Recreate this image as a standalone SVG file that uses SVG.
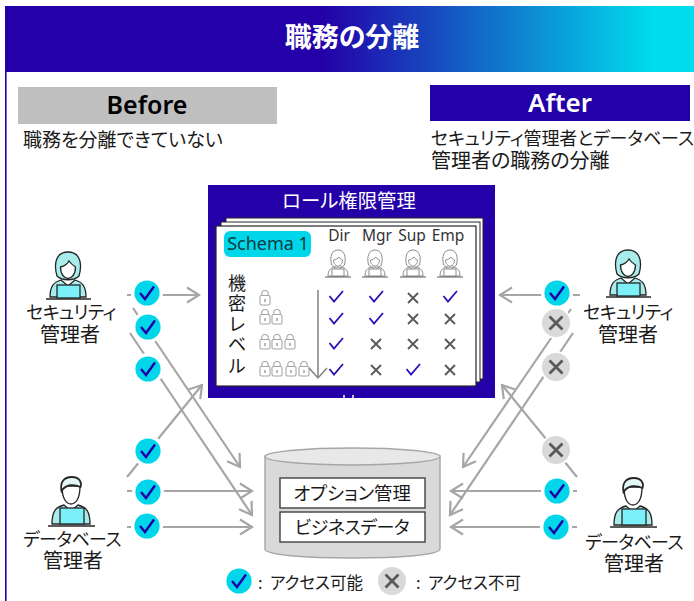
<svg xmlns="http://www.w3.org/2000/svg" width="694" height="601" viewBox="0 0 694 601">
<style>
text{font-family:"Noto Sans CJK JP","Noto Sans",sans-serif;fill:#1a1a1a;font-feature-settings:"palt"}
.lat{font-family:"Noto Sans","Liberation Sans",sans-serif}
.m{text-anchor:middle}
.kn{font-size:18px;text-anchor:middle;letter-spacing:-0.600px}
.kj{font-size:20px;text-anchor:middle}
.conn{fill:none;stroke:#a6a6a6;stroke-width:2.2}
.halo{fill:#fff}
.t{fill:none;stroke:#2a10b8;stroke-width:1.8}
.x{fill:none;stroke:#595959;stroke-width:1.9}
.lock{fill:#fff;stroke:#a6a6a6;stroke-width:1.1}
</style>
<defs>
<linearGradient id="hg" x1="0" x2="1" y1="0" y2="0">
<stop offset="0" stop-color="#2300a8"/><stop offset="0.46" stop-color="#2300a8"/><stop offset="0.94" stop-color="#00dcec"/><stop offset="1" stop-color="#00dcec"/>
</linearGradient>
<marker id="ah" markerUnits="userSpaceOnUse" markerWidth="16" markerHeight="20" refX="13" refY="10" orient="auto" viewBox="0 0 16 20">
<path d="M1 2.500 L13 10 L1 17.500" fill="none" stroke="#a6a6a6" stroke-width="2.2"/>
</marker>
<marker id="ahs" markerUnits="userSpaceOnUse" markerWidth="14" markerHeight="20" refX="11" refY="10" orient="auto" viewBox="0 0 14 20">
<path d="M1 1 L11 10 L1 19" fill="none" stroke="#808080" stroke-width="1.500"/>
</marker>
<g id="ok"><circle r="16" class="halo"/><circle r="12.600" fill="#00d6ea"/><path d="M-7 0 L-2 6 L7 -6.500" fill="none" stroke="#2300a8" stroke-width="2.400"/></g>
<g id="ng"><circle r="16" class="halo"/><circle r="14" fill="#d9d9d9"/><path d="M-6.500 -6.500 L6.500 6.500 M6.500 -6.500 L-6.500 6.500" fill="none" stroke="#595959" stroke-width="2.800"/></g>
<g id="woman" stroke="#262626" stroke-width="1.300">
<path d="M-18 33 C-18 22 -14 18 -7 16 L0 22 L7 16 C14 18 18 22 18 33 Z" fill="#a8ecec"/>
<path d="M-11 12 C-15 -2 -11 -12 0 -12 C11 -12 15 -2 11 12 C6 17 -6 17 -11 12 Z" fill="#a8ecec"/>
<path d="M-7.500 3 C-3 2 0 -1 1 -3 C3 0 6 2 7.500 3 C7.500 11 3 14.500 0 14.500 C-3 14.500 -7.500 11 -7.500 3 Z" fill="#fff"/>
<rect x="-11" y="21" width="23" height="13" fill="#7cf0f8"/>
<path d="M-22 35 H23" stroke-width="1.500" fill="none"/>
</g>
<g id="man" stroke="#262626" stroke-width="1.300">
<path d="M-19 36 C-19 23 -15 19 -7 17 L0 23 L7 17 C15 19 19 23 19 36 Z" fill="#a8ecec"/>
<path d="M-9 -2 C-9 12 -4 16 0 16 C4 16 9 12 9 -2 Z" fill="#fff"/>
<path d="M-9.500 3 C-11 -5 -8 -11 1 -11 C9 -11 11 -5 9.500 -1 C3 -4 -5 -4 -9.500 3 Z" fill="#e6f7f7" stroke-width="1.800"/>
<rect x="-11" y="20" width="24" height="16" fill="#7cf0f8"/>
<path d="M-23 38 H24" stroke-width="1.500" fill="none"/>
</g>
<g id="sm" stroke="#8c8c8c" stroke-width="1" fill="#fff">
<path d="M-10 13 C-10 7 -7 5 -4 4 L0 7 L4 4 C7 5 10 7 10 13 Z"/>
<path d="M-6.500 2 C-8.500 -7 -6 -13 0 -13 C6 -13 8.500 -7 6.500 2 C3 5 -3 5 -6.500 2 Z"/>
<path d="M-4.500 -3 C-2 -3 0 -5 1 -6 C2 -4 4 -3 4.500 -3 C4.500 1 2 3 0 3 C-2 3 -4.500 1 -4.500 -3 Z"/>
<rect x="-6" y="6" width="12" height="7"/>
<path d="M-13 14 H13" stroke="#595959"/>
</g>
<g id="lk"><path d="M-3.200 -2 V-4.500 C-3.200 -8.500 3.200 -8.500 3.200 -4.500 V-2" class="lock"/><rect x="-5" y="-2.500" width="10" height="9.500" rx="1.500" class="lock"/><path d="M0 1 V4" stroke="#a6a6a6" stroke-width="1.600"/></g>
<path id="c" class="t" d="M-6.500 -1 L-2 4.500 L7 -6"/>
<path id="n" class="x" d="M-5 -5 L5 5 M5 -5 L-5 5"/>
</defs>

<rect width="694" height="601" fill="#fff"/>
<rect id="left-rule" x="5" y="6" width="1.600" height="595" fill="#2300a8"/>
<g id="header"><rect x="5" y="6" width="689" height="66" fill="url(#hg)"/>
<text x="352" y="47" class="m" font-size="27" font-weight="700" style="fill:#fff">職務の分離</text></g>

<g id="before"><rect x="18" y="87" width="259" height="37" fill="#bfbfbf"/>
<text x="147" y="114" class="lat m" font-size="25" font-weight="600" style="fill:#000">Before</text>
<text x="23" y="147" font-size="19">職務を分離できていない</text></g>

<g id="after"><rect x="430" y="85" width="260" height="36" fill="#2300a8"/>
<text x="560" y="112" class="lat m" font-size="26" font-weight="600" style="fill:#fff">After</text>
<text x="431" y="145" font-size="18" style="letter-spacing:-0.100px">セキュリティ管理者とデータベース</text>
<text x="431" y="168" font-size="20">管理者の職務の分離</text></g>

<g id="role-management">
<rect x="208" y="185" width="287" height="213" fill="#2300a8"/>
<text x="349" y="208" class="m" font-size="19.400" style="fill:#fff">ロール権限管理</text>
<rect x="226" y="218" width="257" height="161" fill="#fff" stroke="#262626"/>
<rect x="221" y="222" width="259" height="160" fill="#fff" stroke="#262626"/>
<rect x="216" y="226" width="260" height="160" fill="#fff" stroke="#262626" stroke-width="1.200"/>
<path d="M344 395 V398 M353 395 V398" stroke="#fff" stroke-width="1.500"/>
<rect x="224" y="231" width="87" height="26" rx="6" fill="#00d6ea"/>
<text x="268" y="250" class="lat m" font-size="18" style="fill:#0a3a40">Schema 1</text>
<text x="339" y="241" class="lat m" font-size="15.500" style="fill:#333">Dir</text><text x="377" y="241" class="lat m" font-size="15.500" style="fill:#333">Mgr</text><text x="412" y="241" class="lat m" font-size="15.500" style="fill:#333">Sup</text><text x="448" y="241" class="lat m" font-size="15.500" style="fill:#333">Emp</text>
<use href="#sm" x="338" y="263"/><use href="#sm" x="375" y="263"/><use href="#sm" x="413" y="263"/><use href="#sm" x="450" y="263"/>
<text class="m" font-size="18" x="237 237 237 237 237" y="290 310 331 351 373">機密レベル</text>
<use href="#lk" x="265" y="298"/>
<use href="#lk" x="265" y="317"/><use href="#lk" x="277" y="317"/>
<use href="#lk" x="265" y="342"/><use href="#lk" x="277" y="342"/><use href="#lk" x="290" y="342"/>
<use href="#lk" x="265" y="369"/><use href="#lk" x="277" y="369"/><use href="#lk" x="291" y="369"/><use href="#lk" x="304" y="369"/>
<path d="M318 290 V378" fill="none" stroke="#808080" stroke-width="1.500" marker-end="url(#ahs)"/>
<use href="#c" x="336" y="297"/><use href="#c" x="376" y="297"/><use href="#n" x="413" y="298"/><use href="#c" x="450" y="297"/>
<use href="#c" x="336" y="319"/><use href="#c" x="376" y="319"/><use href="#n" x="413" y="319"/><use href="#n" x="450" y="319"/>
<use href="#c" x="336" y="344"/><use href="#n" x="376" y="344"/><use href="#n" x="413" y="344"/><use href="#n" x="450" y="344"/>
<use href="#c" x="336" y="370"/><use href="#n" x="376" y="370"/><use href="#c" x="413" y="370"/><use href="#n" x="450" y="370"/>
</g>

<g id="database">
<path d="M265 456 V549 C265 555 305 558 352 558 C400 558 440 555 440 549 V456 Z" fill="#d9d9d9" stroke="#a6a6a6" stroke-width="1.400"/>
<ellipse cx="352.500" cy="456.500" rx="87.500" ry="8.500" fill="#e8e8e8" stroke="#a6a6a6" stroke-width="1.400"/>
<rect x="280" y="478" width="145" height="30" fill="#fff" stroke="#404040" stroke-width="1.400"/>
<rect x="280" y="512" width="145" height="30" fill="#fff" stroke="#404040" stroke-width="1.400"/>
<text x="352" y="500" class="m" font-size="18.400">オプション管理</text>
<text x="352" y="534" class="m" font-size="18" style="letter-spacing:-0.500px">ビジネスデータ</text>
</g>

<g id="connectors">
<path class="conn" marker-end="url(#ah)" d="M127 295 H199"/>
<path class="conn" marker-end="url(#ah)" d="M133 308 L240 467"/>
<path class="conn" marker-end="url(#ah)" d="M130 333 L252 515"/>
<path class="conn" marker-end="url(#ah)" d="M127 477 L202 385"/>
<path class="conn" marker-end="url(#ah)" d="M127 491 H252"/>
<path class="conn" marker-end="url(#ah)" d="M127 527 H252"/>
<path class="conn" marker-end="url(#ah)" d="M580 295 H500"/>
<path class="conn" marker-end="url(#ah)" d="M571 309 L463 467"/>
<path class="conn" marker-end="url(#ah)" d="M573 333 L450 515"/>
<path class="conn" marker-end="url(#ah)" d="M577 477 L502 385"/>
<path class="conn" marker-end="url(#ah)" d="M577 491 H451"/>
<path class="conn" marker-end="url(#ah)" d="M577 527 H451"/>
</g>

<g id="badges">
<use href="#ok" x="147" y="293"/><use href="#ok" x="148" y="327"/><use href="#ok" x="148" y="369"/>
<use href="#ok" x="148" y="451"/><use href="#ok" x="148" y="492"/><use href="#ok" x="147" y="526"/>
<use href="#ok" x="557" y="293"/><use href="#ng" x="556" y="323"/><use href="#ng" x="556" y="367"/>
<use href="#ng" x="556" y="450"/><use href="#ok" x="557" y="491"/><use href="#ok" x="556" y="527"/>
</g>

<g id="security-admin-before"><use href="#woman" x="68" y="264"/>
<text x="71" y="319" class="kn">セキュリティ</text>
<text x="70" y="342" class="kj">管理者</text></g>
<g id="db-admin-before"><use href="#man" x="71" y="488"/>
<text x="72" y="546" class="kn">データベース</text>
<text x="73" y="568" class="kj">管理者</text></g>
<g id="security-admin-after"><use href="#woman" x="628" y="262"/>
<text x="628" y="319" class="kn">セキュリティ</text>
<text x="628" y="342" class="kj">管理者</text></g>
<g id="db-admin-after"><use href="#man" x="633" y="489"/>
<text x="634" y="549" class="kn">データベース</text>
<text x="634" y="571" class="kj">管理者</text></g>

<g id="legend">
<use href="#ok" x="239" y="581"/>
<text x="258" y="589" font-size="16.500">:<tspan x="270">アクセス可能</tspan></text>
<use href="#ng" x="392" y="581"/>
<text x="416" y="589" font-size="16.500">:<tspan x="428">アクセス不可</tspan></text>
</g>
</svg>
